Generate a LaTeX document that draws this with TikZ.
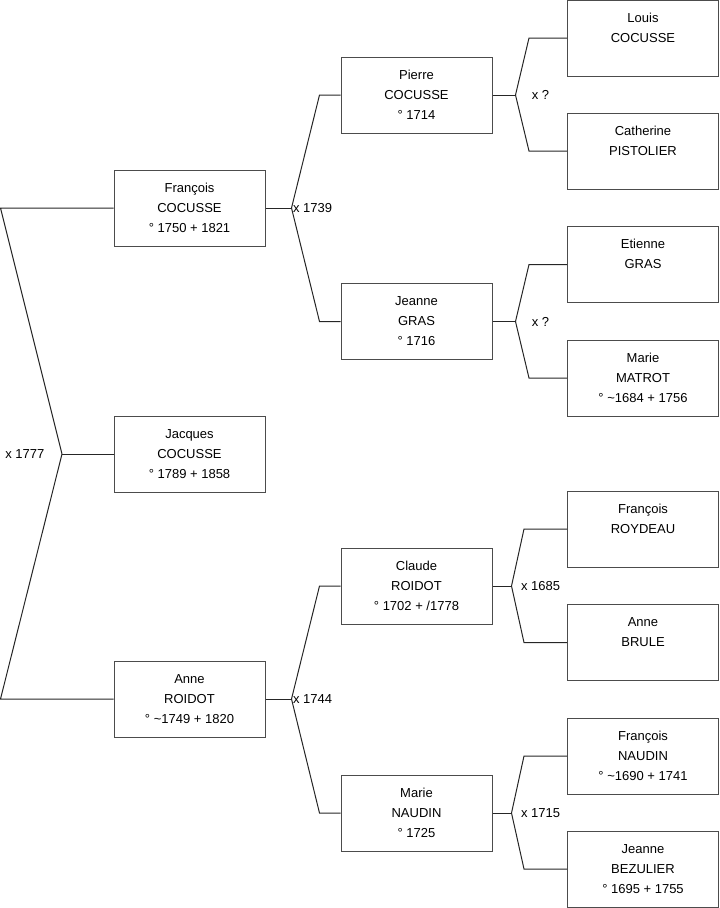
\documentclass[tikz,border=0pt]{standalone}
\usepackage{fontspec}
\setmainfont{Liberation Sans}
\usetikzlibrary{positioning}
\newcommand{\pers}[3]{\strut#1\\\strut#2\\\strut#3}

\begin{document}
\begin{tikzpicture}[x=0.75pt,y=-0.75pt,
  person/.style={draw=black!70,line width=0.75pt,minimum width=113.25pt,minimum height=57pt,
    inner sep=0pt,align=center,font=\fontsize{9.75}{15}\selectfont},
  link/.style={draw=black!85,line width=0.75pt},
  wed/.style={inner sep=1pt,font=\fontsize{9.75}{12}\selectfont}]
  \useasboundingbox (0,0) rectangle (719,908);
  % the child
  \node[person] (jacques) at (189.5,454) {\pers{Jacques}{COCUSSE}{° 1789 + 1858}};
  % parents
  \node[person] (francois) at (189.5,208) {\pers{François}{COCUSSE}{° 1750 + 1821}};
  \node[person] (anne) at (189.5,699) {\pers{Anne}{ROIDOT}{° \textasciitilde1749 + 1820}};
  % grandparents
  \node[person] (pierre) at (416.5,95) {\pers{Pierre}{COCUSSE}{° 1714}};
  \node[person] (jeanne) at (416.5,321.5) {\pers{Jeanne}{GRAS}{° 1716}};
  \node[person] (claude) at (416.5,586) {\pers{Claude}{ROIDOT}{° 1702 + /1778}};
  \node[person] (marie) at (416.5,813) {\pers{Marie}{NAUDIN}{° 1725}};
  % great-grandparents
  \node[person] (louis) at (643,38) {\pers{Louis}{COCUSSE}{}};
  \node[person] (catherine) at (643,151) {\pers{Catherine}{PISTOLIER}{}};
  \node[person] (etienne) at (643,264.5) {\pers{Etienne}{GRAS}{}};
  \node[person] (matrot) at (643,378) {\pers{Marie}{MATROT}{° \textasciitilde1684 + 1756}};
  \node[person] (roydeau) at (643,529) {\pers{François}{ROYDEAU}{}};
  \node[person] (brule) at (643,642.5) {\pers{Anne}{BRULE}{}};
  \node[person] (fnaudin) at (643,756) {\pers{François}{NAUDIN}{° \textasciitilde1690 + 1741}};
  \node[person] (bezulier) at (643,869) {\pers{Jeanne}{BEZULIER}{° 1695 + 1755}};

  % links, generation 0
  \coordinate (j0) at (62,454);
  \draw[link] (jacques.west) -- (j0);
  \draw[link] (francois.west) -- ++(-113,0) -- (j0);
  \draw[link] (anne.west) -- ++(-113,0) -- (j0);
  \node[wed,left=12pt of j0] (w0) {x 1777};
  % links, generation 1
  \draw[link] (francois.east) -- ++(26,0) coordinate (j1);
  \draw[link] (pierre.west) -- ++(-21,0) -- (j1);
  \draw[link] (jeanne.west) -- ++(-21,0) -- (j1);
  \node[wed,right=0pt of j1] (w1) {x 1739};
  \draw[link] (anne.east) -- ++(26,0) coordinate (j2);
  \draw[link] (claude.west) -- ++(-21,0) -- (j2);
  \draw[link] (marie.west) -- ++(-21,0) -- (j2);
  \node[wed,right=0pt of j2] (w2) {x 1744};
  % links, generation 2
  \draw[link] (pierre.east) -- ++(23,0) coordinate (j3);
  \draw[link] (louis.west) -- ++(-38,0) -- (j3);
  \draw[link] (catherine.west) -- ++(-38,0) -- (j3);
  \node[wed,right=11pt of j3] (w3) {x ?};
  \draw[link] (jeanne.east) -- ++(23,0) coordinate (j4);
  \draw[link] (etienne.west) -- ++(-38,0) -- (j4);
  \draw[link] (matrot.west) -- ++(-38,0) -- (j4);
  \node[wed,right=11pt of j4] (w4) {x ?};
  \draw[link] (claude.east) -- ++(19,0) coordinate (j5);
  \draw[link] (roydeau.west) -- ++(-43,0) -- (j5);
  \draw[link] (brule.west) -- ++(-43,0) -- (j5);
  \node[wed,right=6pt of j5] (w5) {x 1685};
  \draw[link] (marie.east) -- ++(19,0) coordinate (j6);
  \draw[link] (fnaudin.west) -- ++(-43,0) -- (j6);
  \draw[link] (bezulier.west) -- ++(-43,0) -- (j6);
  \node[wed,right=6pt of j6] (w6) {x 1715};
\end{tikzpicture}
\end{document}
